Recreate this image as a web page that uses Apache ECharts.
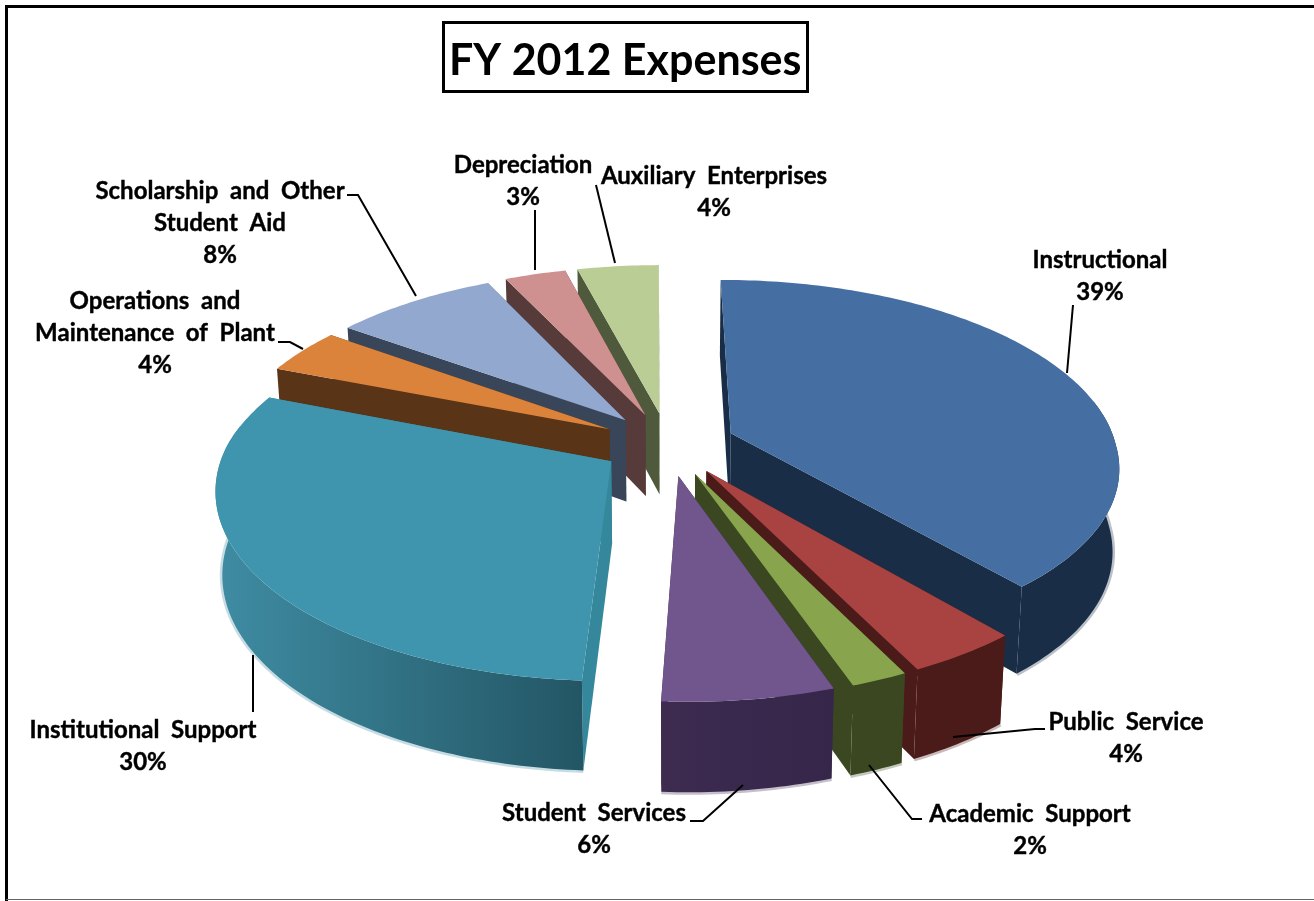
<!DOCTYPE html>
<html>
<head>
<meta charset="utf-8">
<title>FY 2012 Expenses</title>
<style>html,body{margin:0;padding:0;background:#fff}#chart{width:1314px;height:901px}</style>
<script src="https://cdn.jsdelivr.net/npm/echarts@6/dist/echarts.min.js"></script>
</head>
<body>
<div id="chart"></div>
<script>
// Expense categories, clockwise from twelve o'clock
const categories = ['Instructional', 'Public Service', 'Academic Support', 'Student Services',
  'Institutional Support', 'Operations and\nMaintenance of Plant', 'Scholarship and Other\nStudent Aid',
  'Depreciation', 'Auxiliary Enterprises'];
const sharePercent = [39, 4, 2, 6, 30, 4, 8, 3, 4];

// Face colours
const topColors = ['#456fa3', '#a94341', '#88a44d', '#71568e', '#3f95ae', '#db823b', '#92a8cf', '#cf9190', '#b9cd94'];
const wallFrom = ['#1a2d46', '#4a1b18', '#3a4720', '#3d2b50', '#3f8ca3', '#5a3417', '#394558', '#573a3a', '#4f5a3c'];
const wallTo = ['#1a2d46', '#4a1b18', '#3a4720', '#35264a', '#235665', '#5a3417', '#394558', '#573a3a', '#4f5a3c'];
const sideColors = ['#1a2d46', '#4a1b18', '#3a4720', '#3d2b50', '#35879c', '#5a3417', '#394558', '#573a3a', '#4f5a3c'];

// Label anchors (centre x, first line y) and leader line paths
const labelAnchors = [[1100, 260], [1126, 722], [1030, 814], [594, 813], [143, 730], [155, 301], [220, 191], [523, 165], [714, 176]];
const leaderPaths = [
  [[1073, 305], [1067, 373]],
  [[1045, 729], [1035, 729], [953, 737]],
  [[922, 819], [912, 819], [869, 765]],
  [[690, 821], [703, 821], [743, 785]],
  [[253, 712], [253, 655]],
  [[278, 342], [290, 342], [303, 349]],
  [[347, 195], [358, 195], [416, 296]],
  [[535, 210], [535, 270]],
  [[596, 185], [615, 263]]
];

// Projection of the tilted pie
const view = { cx: 668, cy: 444, rx: 385, ry: 180, persp: 0.154, depth: 82, depthPersp: 0.08, shrink: 0.015, shear: 8, explode: 0.175, startDeg: -0.3 };

function project(u, v, h) {
  const s = 1 / (1 + view.persp * v);
  const sd = 1 / (1 + view.depthPersp * v);
  return [
    view.cx + view.rx * u * s * (1 - view.shrink * h) + view.shear * Math.max(0, -v),
    view.cy - view.ry * v * s + view.depth * sd * h
  ];
}

const total = sharePercent.reduce((a, b) => a + b, 0);
const spans = [];
sharePercent.reduce((acc, val) => {
  spans.push([acc, acc + val / total * 360]);
  return acc + val / total * 360;
}, view.startDeg);

// Back slices are painted first so that nearer ones cover them
const paintRank = {};
spans.map((s, i) => [Math.cos((s[0] + s[1]) / 360 * Math.PI), i])
  .sort((a, b) => b[0] - a[0])
  .forEach((e, r) => { paintRank[e[1]] = r; });

function renderSlice(params) {
  const i = params.dataIndex;
  const [a0, a1] = spans[i];
  const rad = Math.PI / 180;
  const mid = (a0 + a1) / 2 * rad;
  const ou = view.explode * Math.sin(mid), ov = view.explode * Math.cos(mid);
  const rim = (deg, h) => project(ou + Math.sin(deg * rad), ov + Math.cos(deg * rad), h);
  const apex = h => project(ou, ov, h);
  const z = paintRank[i] * 10 + 10;

  const topPts = [apex(0)];
  const frontTop = [], frontBottom = [];
  const steps = Math.max(2, Math.ceil(a1 - a0));
  for (let k = 0; k <= steps; k++) {
    const d = a0 + (a1 - a0) * k / steps;
    topPts.push(rim(d, 0));
    if (Math.cos(d * rad) < 0.2) {
      frontTop.push(rim(d, 0));
      frontBottom.push(rim(d, 1));
    }
  }

  const children = [];
  const side = deg => ({
    type: 'polygon', z2: z,
    shape: { points: [apex(0), rim(deg, 0), rim(deg, 1), apex(1)] },
    style: { fill: sideColors[i] }
  });
  children.push(side(a0), side(a1));

  if (frontTop.length > 1) {
    const xs = frontTop.map(p => p[0]);
    const x0 = Math.min.apply(null, xs), x1 = Math.max.apply(null, xs);
    children.push({
      type: 'polygon', z2: z + 1,
      shape: { points: frontTop.concat(frontBottom.slice().reverse()) },
      style: {
        fill: {
          type: 'linear', x: x0, y: 0, x2: x1, y2: 0, global: true,
          colorStops: [{ offset: 0, color: wallFrom[i] }, { offset: 1, color: wallTo[i] }]
        }
      }
    });
    // Pale fringe under the bottom edge of the outer wall
    children.push({
      type: 'polyline', z2: z,
      shape: { points: frontBottom },
      style: { fill: 'none', stroke: wallFrom[i], opacity: 0.3, lineWidth: 5 }
    });
  }
  children.push({
    type: 'polygon', z2: z + 2,
    shape: { points: topPts },
    style: { fill: topColors[i] }
  });

  // Leader line and label
  children.push({
    type: 'polyline', z2: 200,
    shape: { points: leaderPaths[i] },
    style: { fill: 'none', stroke: '#000', lineWidth: 2 }
  });
  // Labels are set with wide word gaps
  const text = categories[i].replace(/ /g, '  ') + '\n' + sharePercent[i] + '%';
  children.push({
    type: 'text', z2: 210,
    x: labelAnchors[i][0], y: labelAnchors[i][1] - 16,
    style: {
      text, fill: '#000', align: 'center', verticalAlign: 'top',
      font: 'bold 24px Lato', lineHeight: 32,
      stroke: '#000', lineWidth: 0.4
    }
  });
  return { type: 'group', children };
}

const chart = echarts.init(document.getElementById('chart'), null, { renderer: 'canvas' });
chart.setOption({
  animation: false,
  backgroundColor: '#fff',
  title: {
    text: 'FY 2012 Expenses',
    left: 443, top: 22,
    padding: [18, 6, 9, 6],
    borderColor: '#000', borderWidth: 3,
    textStyle: { fontFamily: 'Lato', fontWeight: 'bold', fontSize: 43, color: '#000', lineHeight: 43 }
  },
  graphic: [
    { type: 'line', shape: { x1: 6, y1: 6.5, x2: 1314, y2: 6.5 }, style: { stroke: '#000', lineWidth: 3 } },
    { type: 'line', shape: { x1: 6.5, y1: 5, x2: 6.5, y2: 901 }, style: { stroke: '#000', lineWidth: 3 } },
    { type: 'line', shape: { x1: 6, y1: 899.5, x2: 1314, y2: 899.5 }, style: { stroke: '#666', lineWidth: 1 } }
  ],
  series: [{
    type: 'custom',
    coordinateSystem: 'none',
    silent: true,
    renderItem: renderSlice,
    data: sharePercent.map((v, i) => ({ name: categories[i], value: v }))
  }]
});
</script>
</body>
</html>
